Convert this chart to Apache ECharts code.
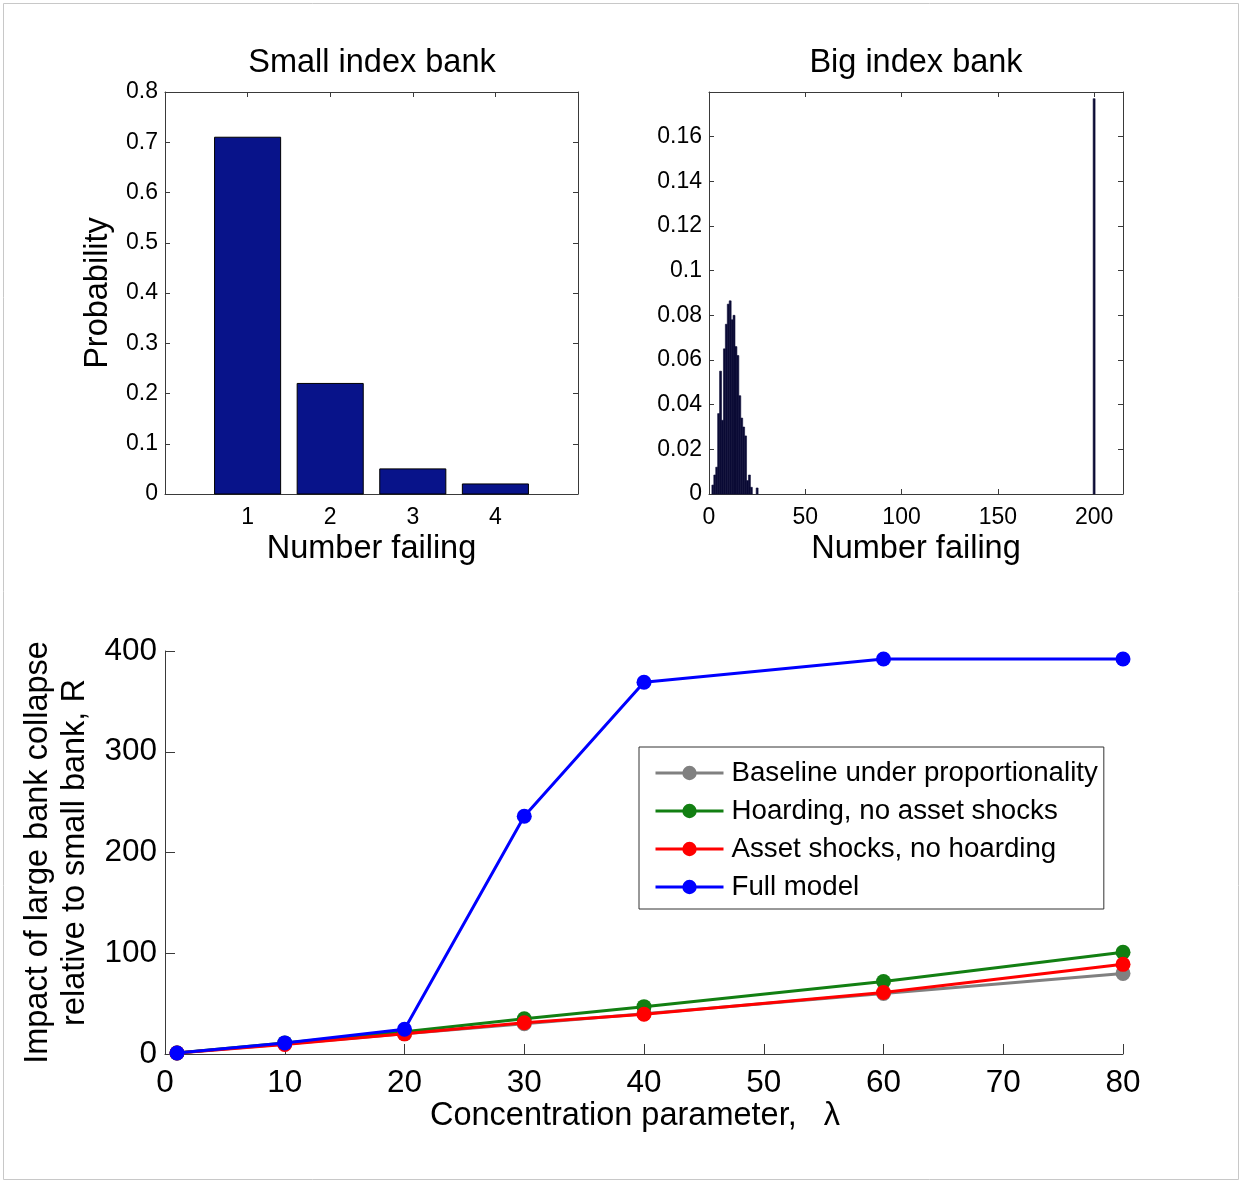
<!DOCTYPE html>
<html><head><meta charset="utf-8">
<script src="https://cdn.jsdelivr.net/npm/echarts@6/dist/echarts.min.js"></script>
<style>html,body{margin:0;padding:0;background:#fff}#c{width:1242px;height:1183px}</style>
</head><body><div id="c"></div>
<script>
// ---- data ----
const smallCounts = [1, 2, 3, 4];
const smallProb = [0.71, 0.22, 0.05, 0.02];

const bigCounts = [2, 3, 4, 5, 6, 7, 8, 9, 10, 11, 12, 13, 14, 15, 16, 17, 18, 19, 20, 21, 22, 25, 200];
const bigProb = [0.004, 0.0085, 0.012, 0.036, 0.055, 0.033, 0.065, 0.076, 0.085, 0.0865, 0.078, 0.08, 0.066, 0.062, 0.044, 0.034, 0.030, 0.026, 0.006, 0.0085, 0.003, 0.0027, 0.177];

const lambdaVals = [1, 10, 20, 30, 40, 60, 80];
const baseline = [1, 10, 20, 30, 40, 60, 80];
const hoarding = [1, 11, 22, 35, 47, 72, 101];
const assetShocks = [1, 9.5, 20, 31, 39.5, 61, 89];
const fullModel = [1, 11, 24.5, 236, 369, 392, 392];

const seriesNames = ['Baseline under proportionality', 'Hoarding, no asset shocks', 'Asset shocks, no hoarding', 'Full model'];
const seriesColors = ['#808080', '#127f12', '#ff0000', '#0000ff'];
const titles = ['Small index bank', 'Big index bank'];

// ---- chart ----
const FONT = '"Liberation Sans", Arial, Helvetica, sans-serif';
const AX = '#3a3a3a';
const chart = echarts.init(document.getElementById('c'), null, {renderer: 'canvas'});

function fmtNum(v) { return String(parseFloat(v.toFixed(3))); }

function baseAxis(extra) {
  return Object.assign({
    type: 'value',
    splitLine: {show: false},
    axisLine: {show: true, onZero: false, lineStyle: {color: AX, width: 1}},
    axisTick: {show: true, inside: true, length: 5, lineStyle: {color: AX}},
    axisLabel: {color: '#000', fontFamily: FONT, fontSize: 23},
    nameTextStyle: {color: '#000', fontFamily: FONT, fontSize: 32.5}
  }, extra);
}
function mirrorAxis(extra) {
  return baseAxis(Object.assign({axisLabel: {show: false}}, extra));
}

function barRender(halfW, fill, stroke, lw) {
  return function (params, api) {
    const x = api.value(0), y = api.value(1);
    const p0 = api.coord([x - halfW, y]);
    const p1 = api.coord([x + halfW, 0]);
    return {
      type: 'rect',
      shape: {x: p0[0], y: p0[1], width: p1[0] - p0[0], height: p1[1] - p0[1]},
      style: {fill: fill, stroke: stroke, lineWidth: lw}
    };
  };
}

const lineData = [baseline, hoarding, assetShocks, fullModel];
const ylab = (fs, extra) => Object.assign({color: '#000', fontFamily: FONT, fontSize: fs, margin: 7,
  verticalAlign: 'middle', lineHeight: fs + 4, padding: [5, 0, 0, 0]}, extra);

const option = {
  backgroundColor: '#fff',
  animation: false,
  title: [
    {text: titles[0], left: 372, top: 47, textAlign: 'center', padding: 0,
      textStyle: {fontFamily: FONT, fontSize: 32.5, fontWeight: 'normal', color: '#000'}},
    {text: titles[1], left: 916, top: 47, textAlign: 'center', padding: 0,
      textStyle: {fontFamily: FONT, fontSize: 32.5, fontWeight: 'normal', color: '#000'}}
  ],
  grid: [
    {left: 165, top: 92, width: 413, height: 402},
    {left: 709, top: 92, width: 414, height: 402},
    {left: 165, top: 651, width: 958, height: 403}
  ],
  xAxis: [
    baseAxis({gridIndex: 0, min: 0, max: 5, interval: 1, position: 'bottom',
      name: 'Number failing', nameLocation: 'middle', nameGap: 39,
      axisLabel: {color: '#000', fontFamily: FONT, fontSize: 23, margin: 12,
        formatter: v => (v >= 1 && v <= 4) ? String(v) : ''}}),
    mirrorAxis({gridIndex: 0, min: 0, max: 5, interval: 1, position: 'top'}),
    baseAxis({gridIndex: 1, min: 0, max: 215, interval: 50, position: 'bottom',
      name: 'Number failing', nameLocation: 'middle', nameGap: 39,
      axisLabel: {color: '#000', fontFamily: FONT, fontSize: 23, margin: 12,
        formatter: v => (v % 50 === 0) ? String(v) : ''}}),
    mirrorAxis({gridIndex: 1, min: 0, max: 215, interval: 50, position: 'top'}),
    baseAxis({gridIndex: 2, min: 0, max: 80, interval: 10, position: 'bottom',
      name: 'Concentration parameter,   \u03bb', nameLocation: 'middle', nameGap: 43,
      nameTextStyle: {color: '#000', fontFamily: FONT, fontSize: 32.5, padding: [0, 18, 0, 0]},
      axisTick: {show: true, inside: true, length: 10, lineStyle: {color: AX}},
      axisLabel: {color: '#000', fontFamily: FONT, fontSize: 31.5, margin: 13}})
  ],
  yAxis: [
    baseAxis({gridIndex: 0, min: 0, max: 0.8, interval: 0.1, position: 'left',
      name: 'Probability', nameLocation: 'middle', nameGap: 50,
      axisLabel: ylab(23, {formatter: fmtNum})}),
    mirrorAxis({gridIndex: 0, min: 0, max: 0.8, interval: 0.1, position: 'right'}),
    baseAxis({gridIndex: 1, min: 0, max: 0.18, interval: 0.02, position: 'left',
      axisLabel: ylab(23, {formatter: v => v > 0.17 ? '' : fmtNum(v)})}),
    mirrorAxis({gridIndex: 1, min: 0, max: 0.18, interval: 0.02, position: 'right'}),
    baseAxis({gridIndex: 2, min: 0, max: 400, interval: 100, position: 'left',
      name: 'Impact of large bank collapse\nrelative to small bank, R', nameLocation: 'middle', nameGap: 70,
      nameTextStyle: {color: '#000', fontFamily: FONT, fontSize: 32.5, lineHeight: 37},
      axisTick: {show: true, inside: true, length: 10, lineStyle: {color: AX}},
      axisLabel: ylab(31.5, {margin: 8})})
  ],
  legend: {
    orient: 'vertical', left: 639, top: 747,
    data: seriesNames,
    borderColor: '#333', borderWidth: 1, backgroundColor: '#fff',
    padding: [12, 6, 8, 15],
    itemWidth: 68, itemHeight: 18, itemGap: 10,
    lineStyle: {width: 3},
    textStyle: {color: '#000', fontFamily: FONT, fontSize: 27.7, padding: [0, 0, 0, 3]}
  },
  series: [
    {type: 'custom', xAxisIndex: 0, yAxisIndex: 0,
      data: smallCounts.map((c, i) => [c, smallProb[i]]),
      encode: {x: 0, y: 1},
      renderItem: barRender(0.4, '#08138a', '#000', 1)},
    {type: 'custom', xAxisIndex: 2, yAxisIndex: 2,
      data: bigCounts.map((c, i) => [c, bigProb[i]]),
      encode: {x: 0, y: 1},
      renderItem: barRender(0.5, '#0b0b35', '#0b0b35', 0.6)}
  ].concat(seriesNames.map((n, i) => ({
    type: 'line', name: n, xAxisIndex: 4, yAxisIndex: 4,
    data: lambdaVals.map((x, j) => [x, lineData[i][j]]),
    symbol: 'circle', symbolSize: 15, clip: false,
    lineStyle: {color: seriesColors[i], width: 3},
    itemStyle: {color: seriesColors[i]},
    z: 2 + i
  }))),
  graphic: [{
    type: 'rect', silent: true, z: -1,
    shape: {x: 3.5, y: 3.5, width: 1235, height: 1176},
    style: {fill: 'none', stroke: '#c8c8c8', lineWidth: 1}
  }]
};
chart.setOption(option);
</script>
</body></html>
